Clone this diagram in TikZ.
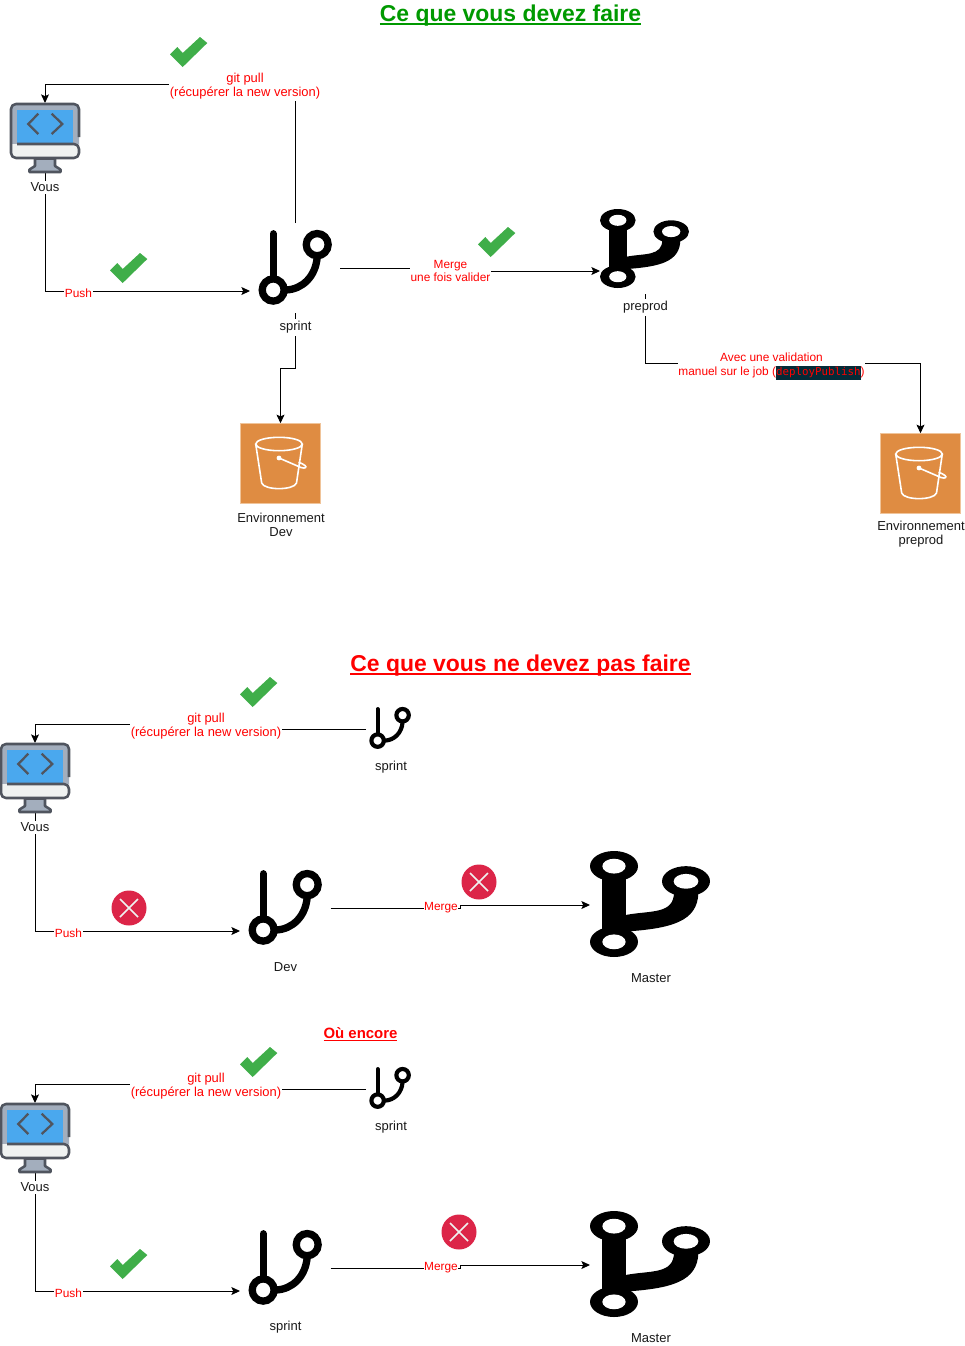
\documentclass[tikz,border=0pt]{standalone}
\usepackage{fontspec}
\setmainfont{Liberation Sans}
\newfontfamily\codefont{DejaVu Sans Mono}
\usetikzlibrary{arrows.meta}
\definecolor{chk}{HTML}{3FAE49}
\definecolor{crs}{HTML}{DC2548}
\definecolor{mdark}{HTML}{50555F}
\definecolor{mgrey}{HTML}{A3AEBD}
\definecolor{mblue}{HTML}{4AA8EE}
\definecolor{mlight}{HTML}{EFF2F1}
\definecolor{bkt}{HTML}{DF8C42}
\definecolor{bktedge}{HTML}{F0C49A}
\definecolor{codebg}{HTML}{042B38}
\definecolor{titlegreen}{HTML}{009900}
\definecolor{linkred}{HTML}{FF0000}
\newcommand\ultext[3]{\setbox0=\hbox{#3}\leavevmode\rlap{\rule[-#1]{\wd0}{#2}}\box0}
\newcommand\IcoGitThin[4]{%
 \begin{scope}[shift={(#1,#2)},xscale=#3,yscale=#4,line width=#3*0.074pt,line cap=round,black]
  \draw (.205,.05) -- (.205,.62);
  \draw (.205,.80) circle [radius=.148];
  \draw (.80,.195) circle [radius=.148];
  \draw (.80,.36) .. controls (.78,.62) and (.6,.79) .. (.38,.80);
 \end{scope}}
\newcommand\IcoGitThick[4]{%
 \begin{scope}[shift={(#1,#2)},xscale=#3,yscale=#4]
  \fill[black] (.103,.14) rectangle (.3,.86);
  \fill[black] (.3,.603) .. controls (.5,.56) and (.7,.6) .. (.7,.39) -- (.903,.39) .. controls (.9,.67) and (.67,.73) .. (.3,.76) -- cycle;
  \fill[black] (.2,.143) ellipse [x radius=.2,y radius=.143];
  \fill[black] (.8,.286) ellipse [x radius=.2,y radius=.143];
  \fill[black] (.2,.857) ellipse [x radius=.2,y radius=.143];
  \fill[white] (.2,.143) ellipse [x radius=.097,y radius=.07];
  \fill[white] (.8,.286) ellipse [x radius=.103,y radius=.07];
  \fill[white] (.2,.857) ellipse [x radius=.097,y radius=.07];
 \end{scope}}
\newcommand\IcoMonitor[2]{%
 \begin{scope}[shift={(#1,#2)},line width=1.9pt,draw=mdark,line join=round]
  \draw[fill=mgrey] (25,55.5) -- (25,63) -- (19.5,66.5) -- (19.5,69) -- (50.5,69) -- (50.5,66.5) -- (45,63) -- (45,55.5) -- cycle;
  \fill[mgrey,rounded corners=3.7pt] (1,1) rectangle (69,55);
  \fill[mlight,rounded corners=3.7pt] (1,30) rectangle (69,55);
  \fill[mgrey] (1,25) rectangle (69,41);
  \fill[mlight] (1,41) rectangle (69,50);
  \fill[mblue] (7.3,7.3) rectangle (62.7,40.5);
  \draw[rounded corners=3.7pt] (69,34) -- (69,1) -- (1,1) -- (1,55) -- (69,55) -- (69,41) -- (7,41);
  \draw[line width=1.7pt,line join=miter] (28.3,10.7) -- (18.3,21) -- (28.3,31);
  \draw[line width=1.7pt,line join=miter] (41.7,10.7) -- (52.3,21) -- (41.7,31);
 \end{scope}}
\newcommand\IcoBucket[2]{%
 \begin{scope}[shift={(#1,#2)},draw=white,line width=1.2pt]
  \draw (39,21) ellipse [x radius=23.3,y radius=6.7];
  \draw (15.7,21) -- (21.7,60) .. controls (24,67.5) and (54,67.5) .. (56.5,60) -- (62.3,21);
  \fill[white] (39,35) circle [radius=2.4];
  \draw (39,35) -- (61,44.5) .. controls (65.5,46) and (67,44) .. (65,42.5) .. controls (63.5,41) and (60.5,40) .. (58.5,39.3);
 \end{scope}}
\newcommand\IcoCheck[2]{%
 \fill[chk,shift={(#1,#2)}] (0,17.3) -- (12.7,30) -- (37.3,6) -- (30,0) -- (12.7,16) -- (7.3,10) -- cycle;}
\newcommand\IcoCross[2]{%
 \begin{scope}[shift={(#1,#2)}]
  \fill[crs] (0,0) circle [radius=17.5];
  \draw[mlight,line width=1.1pt] (-9,-9) -- (9,9) (-9,9) -- (9,-9);
 \end{scope}}
\tikzset{
 x=0.75pt,y=-0.75pt,
 arr/.style={draw=black,line width=0.75pt,-{Stealth[length=6.5pt,width=6pt,inset=1.4pt]}},
 iconbox/.style={minimum width=#1*0.75pt,minimum height=#1*0.75pt,inner sep=0pt,outer sep=0pt},
 bucketbox/.style={minimum width=80.5*0.75pt,minimum height=80.5*0.75pt,inner sep=0pt,outer sep=0pt,fill=bkt,draw=bktedge,line width=.6pt},
 txt/.style={font=\fontsize{9.75pt}{10.4pt}\selectfont,text=black!90,align=center,inner sep=0pt,outer sep=0pt,yshift=-0.4pt},
 caplab/.style={txt,fill=white,inner xsep=1pt,inner ysep=1.5pt},
 redlab/.style={font=\fontsize{9.7pt}{10.3pt}\selectfont,text=linkred,align=center,fill=white,inner xsep=0.5pt,inner ysep=2pt,outer sep=0pt,yshift=-0.6pt},
 smallred/.style={redlab,font=\fontsize{8.9pt}{9.4pt}\selectfont,yshift=0pt},
 titlelab/.style={font=\bfseries\fontsize{17.2pt}{20pt}\selectfont,inner sep=0pt,yshift=-2.2pt},
}
\begin{document}
\begin{tikzpicture}
\fill[white] (0,0) rectangle (964,1346);
\useasboundingbox (0,0) rectangle (964,1346);

% ---------- section 1 : icon holders
\node[iconbox=70] (vousA) at (45,138) {};
\node[iconbox=90] (sprintA) at (295,268) {};
\node[iconbox=90] (preprodA) at (645,249) {};
\node[bucketbox] (devA) at (280.5,463.5) {};
\node[bucketbox] (envA) at (920.5,473.5) {};
\coordinate (pullAa) at (45,84);
\coordinate (pushA) at (250,291);
\coordinate (mergeA) at (600,271);
\coordinate (devbendA) at (280.5,368);
\coordinate (envbendA) at (645,363);
\draw[arr] (sprintA.north) |- (pullAa) -- (vousA.north);
\draw[arr] (vousA.south) |- (pushA);
\draw[arr] (sprintA.east) -- (450,268) |- (mergeA);
\draw[arr] (sprintA.south) |- (devbendA) -- (devA.north);
\draw[arr] (preprodA.south) |- (envbendA) -| (envA.north);
\IcoMonitor{10}{103}
\IcoGitThin{258}{230}{74}{75}
\IcoGitThick{600}{209}{89}{79}
\IcoBucket{240}{423}
\IcoBucket{880}{433}
\node[titlelab,text=titlegreen] (titleA) at (510.5,13) {\ultext{2.6pt}{1.5pt}{Ce que vous devez faire}};
\node[caplab] (vousAl) at (45,187) {Vous};
\node[caplab] (sprintAl) at (295.5,327) {sprint};
\node[caplab] (preprodAl) at (645.5,307) {preprod};
\node[txt] (devAl) at (281,524) {Environnement\\Dev};
\node[txt] (envAl) at (921,534) {Environnement\\preprod};
\node[redlab] (pullAl) at (245,85) {git pull\\(récupérer la new version)};
\node[smallred,inner ysep=1pt] (pushAl) at (78.5,292) {Push};
\node[smallred] (mergeAl) at (450.5,270) {Merge\\une fois valider};
\node[smallred,font=\fontsize{8.9pt}{10.4pt}\selectfont] (jobAl) at (771.5,365.5) {Avec une validation\\manuel sur le job ({\setlength\fboxsep{0pt}\colorbox{codebg}{\strut\codefont\fontsize{8.1pt}{9pt}\selectfont deployPublish}})};
\IcoCheck{170}{37}
\IcoCheck{110}{253}
\IcoCheck{478}{227}

% ---------- section 2
\node[iconbox=70] (vousB) at (35,778) {};
\node[iconbox=50] (sprintB) at (391,729) {};
\node[iconbox=90] (devB) at (285.5,908) {};
\node[iconbox=120] (masterB) at (650,905) {};
\coordinate (pullBa) at (35,724);
\coordinate (pullBb) at (206,724);
\coordinate (pushB) at (240,931);
\coordinate (mergeBa) at (460.5,905);
\draw[arr] (sprintB.west) -- (206,729) -- (pullBb) -- (pullBa) -- (vousB.north);
\draw[arr] (vousB.south) |- (pushB);
\draw[arr] (devB.east) -- (460.5,908) -- (mergeBa) -- (masterB.west);
\IcoMonitor{0}{743}
\IcoGitThin{369}{707}{42}{42}
\IcoGitThin{248}{870}{74}{75}
\IcoGitThick{590}{851}{120}{106}
\IcoCross{129}{908}
\IcoCross{479}{882}
\node[titlelab,text=linkred] (titleB) at (520.5,663) {\ultext{2.6pt}{1.5pt}{Ce que vous ne devez pas faire}};
\node[caplab] (vousBl) at (35,827) {Vous};
\node[txt] (sprintBl) at (391,767) {sprint};
\node[txt] (devBl) at (285.5,967) {Dev};
\node[txt] (masterBl) at (651,978) {Master};
\node[redlab] (pullBl) at (206,725) {git pull\\(récupérer la new version)};
\node[smallred,inner ysep=1pt] (pushBl) at (68.5,932) {Push};
\node[smallred,inner ysep=1pt] (mergeBl) at (441,906.5) {Merge};
\IcoCheck{240}{677}

% ---------- section 3
\node[iconbox=70] (vousC) at (35,1138) {};
\node[iconbox=50] (sprintC) at (391,1089) {};
\node[iconbox=90] (devC) at (285.5,1268) {};
\node[iconbox=120] (masterC) at (650,1265) {};
\coordinate (pullCa) at (35,1084);
\coordinate (pullCb) at (206,1084);
\coordinate (pushC) at (240,1291);
\coordinate (mergeCa) at (460.5,1265);
\draw[arr] (sprintC.west) -- (206,1089) -- (pullCb) -- (pullCa) -- (vousC.north);
\draw[arr] (vousC.south) |- (pushC);
\draw[arr] (devC.east) -- (460.5,1268) -- (mergeCa) -- (masterC.west);
\IcoMonitor{0}{1103}
\IcoGitThin{369}{1067}{42}{42}
\IcoGitThin{248}{1230}{74}{75}
\IcoGitThick{590}{1211}{120}{106}
\IcoCross{459}{1232}
\node[inner sep=0pt,text=linkred,font=\bfseries\fontsize{11.2pt}{13pt}\selectfont] (titleC) at (360.5,1034.5) {\ultext{2pt}{1pt}{Où encore}};
\node[caplab] (vousCl) at (35,1187) {Vous};
\node[txt] (sprintCl) at (391,1127) {sprint};
\node[txt] (devCl) at (285.5,1327) {sprint};
\node[txt] (masterCl) at (651,1338) {Master};
\node[redlab] (pullCl) at (206,1085) {git pull\\(récupérer la new version)};
\node[smallred,inner ysep=1pt] (pushCl) at (68.5,1292) {Push};
\node[smallred,inner ysep=1pt] (mergeCl) at (441,1266.5) {Merge};
\IcoCheck{240}{1047}
\IcoCheck{110}{1249}
\end{tikzpicture}
\end{document}
